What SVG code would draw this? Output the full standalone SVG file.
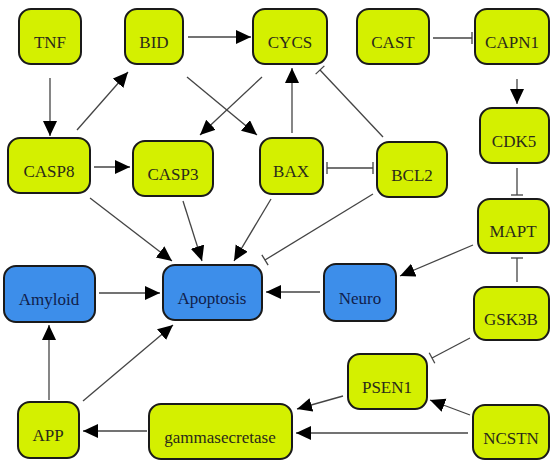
<svg xmlns="http://www.w3.org/2000/svg" width="550" height="460" viewBox="0 0 550 460">
<defs>
<style>
.n rect{stroke:#1a1a1a;stroke-width:2}
.y rect{fill:#d4f000}
.b rect{fill:#3d8eea}
.n text{font-family:"Liberation Serif","Times New Roman",serif;font-size:17px;text-anchor:middle}
.y text{fill:#2a2a1a}
.b text{fill:#10204a}
.e line{stroke:#444;stroke-width:1.3;fill:none}
.a{marker-end:url(#arr)}
.t{marker-end:url(#tee)}
</style>
<marker id="arr" markerUnits="userSpaceOnUse" markerWidth="16" markerHeight="16" refX="15" refY="7" orient="auto">
<path d="M0,0 L15,7 L0,14 z" fill="#000"/>
</marker>
<marker id="tee" markerUnits="userSpaceOnUse" markerWidth="4" markerHeight="14" refX="2" refY="7" orient="auto">
<path d="M2,1 L2,13" stroke="#444" stroke-width="1.3"/>
</marker>
<marker id="teeS" markerUnits="userSpaceOnUse" markerWidth="4" markerHeight="14" refX="2" refY="7" orient="auto">
<path d="M2,1 L2,13" stroke="#444" stroke-width="1.3"/>
</marker>
</defs>
<rect width="550" height="460" fill="#fff"/>
<g id="edges" class="e">
<line class="a" x1="50" y1="78" x2="50" y2="136"/>
<line class="a" x1="77" y1="130" x2="128" y2="72"/>
<line class="a" x1="188" y1="37" x2="251" y2="37"/>
<line class="a" x1="187" y1="77" x2="257" y2="135"/>
<line class="a" x1="262" y1="77" x2="200" y2="135"/>
<line class="a" x1="292" y1="133" x2="292" y2="68"/>
<line class="t" x1="383" y1="137" x2="320" y2="70"/>
<line class="t" x1="373" y1="168" x2="327" y2="168" style="marker-start:url(#teeS)"/>
<line class="a" x1="94" y1="167" x2="130" y2="167"/>
<line class="a" x1="90" y1="198" x2="172" y2="261"/>
<line class="a" x1="183" y1="201" x2="202" y2="261"/>
<line class="a" x1="271" y1="199" x2="234" y2="261"/>
<line class="t" x1="373" y1="194" x2="265" y2="260"/>
<line class="a" x1="99" y1="293" x2="160" y2="293"/>
<line class="a" x1="320" y1="292" x2="266" y2="292"/>
<line class="a" x1="473" y1="245" x2="400" y2="276"/>
<line class="t" x1="517" y1="282" x2="517" y2="258"/>
<line class="a" x1="517" y1="79" x2="517" y2="104"/>
<line class="t" x1="517" y1="168" x2="517" y2="195"/>
<line class="t" x1="433" y1="38" x2="472" y2="38"/>
<line class="t" x1="470" y1="338" x2="432" y2="358"/>
<line class="a" x1="343" y1="396" x2="297" y2="409"/>
<line class="a" x1="470" y1="415" x2="430" y2="400"/>
<line class="a" x1="468" y1="433" x2="296" y2="433"/>
<line class="a" x1="147" y1="431" x2="83" y2="431"/>
<line class="a" x1="49" y1="400" x2="49" y2="325"/>
<line class="a" x1="83" y1="401" x2="173" y2="325"/>
</g>
<g id="TNF" class="n y"><rect x="19" y="9" width="62" height="55" rx="12"/><text x="50" y="48">TNF</text></g>
<g id="BID" class="n y"><rect x="125" y="9" width="58" height="55" rx="12"/><text x="154" y="48">BID</text></g>
<g id="CYCS" class="n y"><rect x="253" y="9" width="74" height="55" rx="12"/><text x="290" y="48">CYCS</text></g>
<g id="CAST" class="n y"><rect x="357" y="9" width="72" height="55" rx="12"/><text x="393" y="48">CAST</text></g>
<g id="CAPN1" class="n y"><rect x="475" y="9" width="74" height="55" rx="12"/><text x="512" y="48">CAPN1</text></g>
<g id="CASP8" class="n y"><rect x="8" y="138" width="82" height="55" rx="12"/><text x="49" y="177">CASP8</text></g>
<g id="CASP3" class="n y"><rect x="133" y="141" width="80" height="55" rx="12"/><text x="173" y="180">CASP3</text></g>
<g id="BAX" class="n y"><rect x="260" y="138" width="63" height="56" rx="12"/><text x="291" y="177">BAX</text></g>
<g id="BCL2" class="n y"><rect x="377" y="142" width="70" height="55" rx="12"/><text x="412" y="181">BCL2</text></g>
<g id="CDK5" class="n y"><rect x="480" y="108" width="69" height="55" rx="12"/><text x="514" y="147">CDK5</text></g>
<g id="MAPT" class="n y"><rect x="478" y="199" width="71" height="54" rx="12"/><text x="513" y="237">MAPT</text></g>
<g id="GSK3B" class="n y"><rect x="474" y="287" width="75" height="53" rx="12"/><text x="511" y="325">GSK3B</text></g>
<g id="Amyloid" class="n b"><rect x="4" y="266" width="91" height="56" rx="12"/><text x="49" y="305">Amyloid</text></g>
<g id="Apoptosis" class="n b"><rect x="163" y="265" width="99" height="55" rx="12"/><text x="212" y="304">Apoptosis</text></g>
<g id="Neuro" class="n b"><rect x="324" y="264" width="72" height="57" rx="12"/><text x="360" y="304">Neuro</text></g>
<g id="PSEN1" class="n y"><rect x="348" y="354" width="79" height="55" rx="12"/><text x="387" y="393">PSEN1</text></g>
<g id="APP" class="n y"><rect x="18" y="402" width="61" height="56" rx="12"/><text x="48" y="441">APP</text></g>
<g id="gammasecretase" class="n y"><rect x="149" y="404" width="143" height="55" rx="12"/><text x="220" y="443">gammasecretase</text></g>
<g id="NCSTN" class="n y"><rect x="473" y="405" width="76" height="54" rx="12"/><text x="511" y="444">NCSTN</text></g>
</svg>
